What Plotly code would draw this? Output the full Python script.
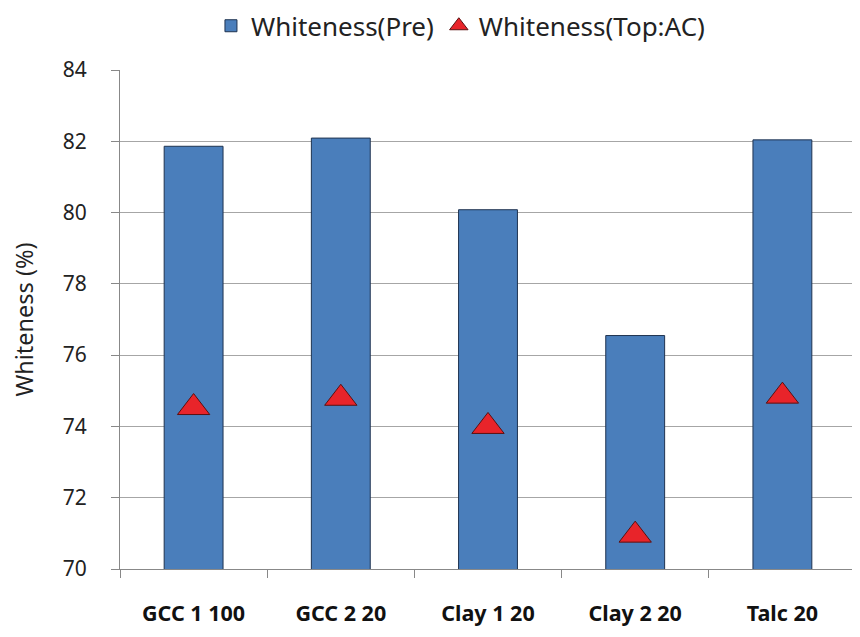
import plotly.graph_objects as go

categories = ["GCC 1 100", "GCC 2 20", "Clay 1 20", "Clay 2 20", "Talc 20"]
pre_values = [81.86, 82.09, 80.08, 76.55, 82.04]
topac_values = [74.53, 74.79, 74.0, 70.95, 74.85]
y_ticks = [70, 72, 74, 76, 78, 80, 82, 84]

fig = go.Figure()
fig.add_trace(go.Bar(
    x=categories, y=pre_values, name="Whiteness(Pre)",
    marker=dict(color="#4a7ebb", line=dict(color="#1f3350", width=1)),
    base=0,
))
fig.add_trace(go.Scatter(
    x=categories, y=topac_values, name="Whiteness(Top:AC)", mode="markers",
    marker=dict(symbol="triangle-up", size=28, color="#e8242a",
                line=dict(color="#5a1010", width=1)),
))

fig.update_layout(
    width=860, height=637,
    margin=dict(l=112, r=12, t=62, b=76),
    paper_bgcolor="white", plot_bgcolor="white",
    bargap=0.6,
    font=dict(family="Noto Sans, DejaVu Sans, sans-serif", color="#222222"),
    legend=dict(orientation="h", xref="container", yref="container",
                x=0.236, xanchor="left", y=0.972, yanchor="middle",
                font=dict(size=26, color="#222222"), itemwidth=30),
    showlegend=True,
    xaxis=dict(
        tickson="boundaries", ticks="outside", ticklen=8, tickcolor="#888888",
        showline=True, linecolor="#888888", linewidth=1,
        tickfont=dict(size=21.5, family="Noto Sans, sans-serif", weight="bold", color="#111111"),
        ticklabelstandoff=25,
        showgrid=False, automargin=False,
    ),
    yaxis=dict(
        range=[70, 84], tickvals=y_ticks, ticks="outside", ticklen=8, tickcolor="#888888",
        showline=True, linecolor="#888888", linewidth=1,
        showgrid=True, gridcolor="#a6a6a6", gridwidth=1,
        tickfont=dict(size=21, color="#222222"),
        ticklabelstandoff=20,
        title=dict(text="Whiteness (%)", font=dict(size=23.5, color="#222222"), standoff=31),
        zeroline=False, automargin=False,
    ),
)

fig.write_html("out.html")
